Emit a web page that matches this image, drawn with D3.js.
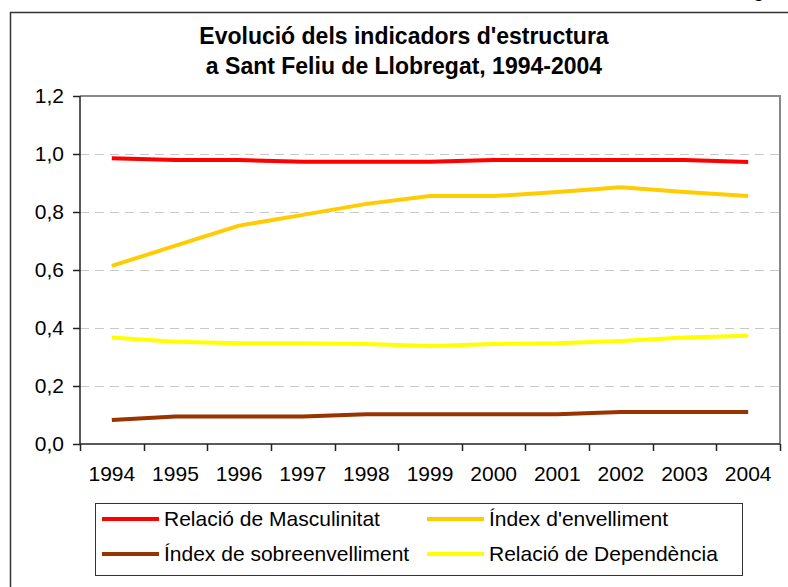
<!DOCTYPE html>
<html lang="ca">
<head>
  <meta charset="utf-8">
  <script src="https://d3js.org/d3.v7.min.js"></script>
  <style>
    body { margin: 0; background: #fff; }
    svg { display: block; font-family: "Liberation Sans", Arial, sans-serif; }
  </style>
</head>
<body>
  <div id="chart"></div>
  <script>
    // data
    var years = ['1994', '1995', '1996', '1997', '1998', '1999', '2000', '2001', '2002', '2003', '2004'];
    var masculinitat = [0.985, 0.979, 0.979, 0.973, 0.973, 0.973, 0.979, 0.979, 0.979, 0.979, 0.972];
    var envelliment = [0.614, 0.684, 0.753, 0.790, 0.828, 0.855, 0.855, 0.869, 0.885, 0.869, 0.855];
    var sobreenvelliment = [0.083, 0.095, 0.095, 0.095, 0.103, 0.103, 0.103, 0.103, 0.110, 0.110, 0.110];
    var dependencia = [0.367, 0.353, 0.347, 0.347, 0.345, 0.338, 0.345, 0.347, 0.355, 0.367, 0.373];
    var yTicks = [0, 0.2, 0.4, 0.6, 0.8, 1.0, 1.2];
    var titleLines = ["Evolució dels indicadors d'estructura", "a Sant Feliu de Llobregat, 1994-2004"];

    var series = [
      { label: 'Relació de Masculinitat', values: masculinitat, color: '#ff0000' },
      { label: "Índex d'envelliment", values: envelliment, color: '#ffcc00' },
      { label: 'Índex de sobreenvelliment', values: sobreenvelliment, color: '#993300' },
      { label: 'Relació de Dependència', values: dependencia, color: '#ffff00' }
    ];

    var width = 788;
    var height = 587;
    var plot = { left: 80, right: 780, top: 96, bottom: 444 };

    var svg = d3.select('#chart')
      .append('svg')
      .attr('width', width)
      .attr('height', height);

    // outer chart frame (runs off the page right and bottom)
    svg.append('rect')
      .attr('x', 10.5)
      .attr('y', 12.5)
      .attr('width', 800)
      .attr('height', 600)
      .attr('fill', 'none')
      .attr('stroke', '#333')
      .attr('stroke-width', 1.5);

    // cut off text at the top right corner
    svg.append('text')
      .attr('x', 764)
      .attr('y', -3)
      .attr('text-anchor', 'end')
      .style('font-size', '20px')
      .text('g');

    svg.selectAll('.title')
      .data(titleLines)
      .enter()
      .append('text')
      .attr('class', 'title')
      .attr('x', 404)
      .attr('y', function (d, i) { return 44 + i * 29.5; })
      .attr('text-anchor', 'middle')
      .style('font-size', '23px')
      .style('font-weight', 'bold')
      .text(function (d) { return d; });

    var x = d3.scaleBand()
      .domain(years)
      .range([plot.left, plot.right]);

    var y = d3.scaleLinear()
      .domain([0, 1.2])
      .range([plot.bottom, plot.top]);

    var fmt = function (d) { return d3.format('.1f')(d).replace('.', ','); };

    // grid lines
    svg.append('g')
      .selectAll('line')
      .data(yTicks.slice(1, -1))
      .enter()
      .append('line')
      .attr('x1', plot.left)
      .attr('x2', plot.right)
      .attr('y1', function (d) { return Math.round(y(d)) + 0.5; })
      .attr('y2', function (d) { return Math.round(y(d)) + 0.5; })
      .attr('stroke', '#c8c8c8')
      .attr('stroke-dasharray', '9,6');

    // plot area border top + right
    svg.append('path')
      .attr('d', 'M' + plot.left + ',' + plot.top + 'H' + plot.right + 'V' + plot.bottom)
      .attr('fill', 'none')
      .attr('stroke', '#888')
      .attr('stroke-width', 2);

    var yAxis = svg.append('g')
      .attr('transform', 'translate(' + plot.left + ',0)')
      .call(d3.axisLeft(y).tickValues(yTicks).tickSize(7).tickPadding(9).tickFormat(fmt));

    var xAxis = svg.append('g')
      .attr('transform', 'translate(0,' + plot.bottom + ')')
      .call(d3.axisBottom(x).tickSize(0).tickPadding(22));

    // category boundary ticks
    xAxis.append('g')
      .selectAll('line')
      .data(years.concat(['end']))
      .enter()
      .append('line')
      .attr('x1', function (d, i) { return Math.round(plot.left + i * x.step()) + 0.5; })
      .attr('x2', function (d, i) { return Math.round(plot.left + i * x.step()) + 0.5; })
      .attr('y1', 0)
      .attr('y2', 7)
      .attr('stroke', '#222')
      .attr('stroke-width', 1.5);

    [yAxis, xAxis].forEach(function (ax) {
      ax.selectAll('.domain').attr('stroke', '#222').attr('stroke-width', 1.5);
      ax.selectAll('.tick line').attr('stroke', '#222').attr('stroke-width', 1.5);
      ax.selectAll('text')
        .style('font-size', '21px')
        .style('font-family', '"Liberation Sans", Arial, sans-serif')
        .attr('fill', '#000');
    });
    yAxis.select('.domain').attr('d', 'M0,' + plot.bottom + 'V' + plot.top);
    xAxis.select('.domain').attr('d', 'M' + plot.left + ',0H' + plot.right);

    var line = d3.line()
      .x(function (d, i) { return x(years[i]) + x.bandwidth() / 2; })
      .y(function (d) { return y(d); });

    svg.append('g')
      .selectAll('path')
      .data(series)
      .enter()
      .append('path')
      .attr('d', function (d) { return line(d.values); })
      .attr('fill', 'none')
      .attr('stroke', function (d) { return d.color; })
      .attr('stroke-width', 4)
      .attr('stroke-linejoin', 'round');

    // legend
    var legendBox = { x: 95.5, y: 503.5, w: 647, h: 72 };
    svg.append('rect')
      .attr('x', legendBox.x)
      .attr('y', legendBox.y)
      .attr('width', legendBox.w)
      .attr('height', legendBox.h)
      .attr('fill', '#fff')
      .attr('stroke', '#333')
      .attr('stroke-width', 1);

    var legend = svg.selectAll('.legend')
      .data(series)
      .enter()
      .append('g')
      .attr('class', 'legend')
      .attr('transform', function (d, i) {
        var horz = (i % 2 === 0) ? 102 : 427;
        var vert = (i < 2) ? 519 : 554;
        return 'translate(' + horz + ',' + vert + ')';
      });

    legend.append('line')
      .attr('x1', 0)
      .attr('x2', 57)
      .attr('stroke', function (d) { return d.color; })
      .attr('stroke-width', 4);

    legend.append('text')
      .attr('x', 62)
      .attr('y', 7)
      .style('font-size', '21px')
      .text(function (d) { return d.label; });
  </script>
</body>
</html>
